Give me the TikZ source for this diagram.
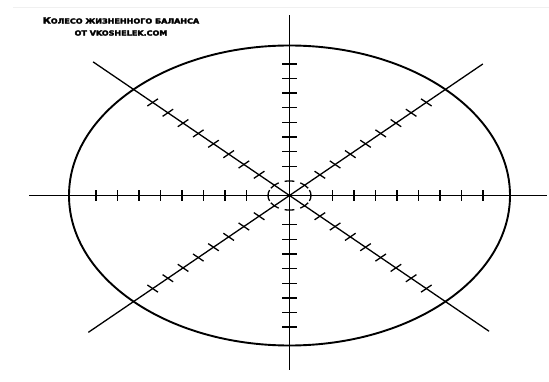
\documentclass[tikz,border=0pt]{standalone}
\usepackage{fontspec}
\newfontfamily\wheelfont{DejaVu Sans}[BoldFeatures={FakeBold=3.5}]
\usepackage{tikz}

\begin{document}
\begin{tikzpicture}[
  x=1pt, y=-1pt,
  rim/.style={line width=1.9pt, black},
  spoke/.style={line width=1.3pt, black},
  tick/.style={line width=1.3pt, black},
  title/.style={font=\wheelfont\bfseries, align=center, inner sep=0pt, xscale=1.15}
]
\useasboundingbox[fill=white] (0,0) rectangle (549,382);
\draw[gray!12, line width=0.6pt] (13,7) -- (549,7);

% title
\node[title] (head) at (121,26.5)
  {{\fontsize{8.6}{12.5}\selectfont К}{\fontsize{7}{12.5}\selectfont ОЛЕСО ЖИЗНЕННОГО БАЛАНСА}\\
   {\fontsize{7}{12.5}\selectfont ОТ VKOSHELEK.COM}};

% wheel, unit circle stretched to the ellipse
\begin{scope}[shift={(289.5pt,-195.5pt)}, x=220.5pt, y=-150pt]
  \draw[rim] (0,0) circle (1);
  \foreach \a/\f/\s in {0/1.166/22, 45/1.28/15, 90/1.16/13, 135/1.29/15,
                        180/1.18/22, 225/1.26/15, 270/1.2/13, 315/1.24/15} {
    \draw[spoke] (0,0) -- (\a:\f);
    % inner ring piece
    \draw[tick] (\a-\s:0.0975) arc[start angle=\a-\s, end angle=\a+\s, radius=0.0975];
    \foreach \k in {2,...,9}
      \draw[tick] (\a:{\k*0.0975}) ++(\a+90:0.034) -- ++(\a-90:0.068);
  }
\end{scope}
\end{tikzpicture}
\end{document}
